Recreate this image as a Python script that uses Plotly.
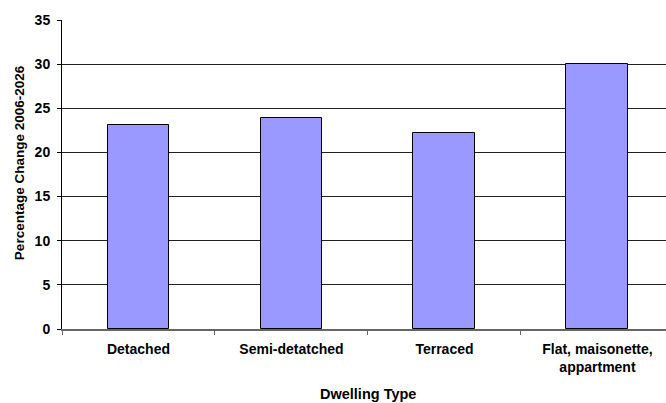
import plotly.graph_objects as go

# Dwelling types and projected percentage change in households, 2006-2026
categories = ["Detached", "Semi-detatched", "Terraced", "Flat, maisonette,<br>appartment"]
pct_change = [23.1, 23.9, 22.2, 30.0]
y_ticks = [0, 5, 10, 15, 20, 25, 30, 35]

FONT = "Liberation Sans, Arial, sans-serif"

fig = go.Figure(
    go.Bar(
        x=categories,
        y=pct_change,
        width=0.405,
        marker=dict(color="#9999FF", line=dict(color="#000000", width=1)),
        hoverinfo="x+y",
    )
)

fig.update_layout(
    width=666,
    height=403,
    margin=dict(l=62, r=0, t=20, b=74),
    paper_bgcolor="white",
    plot_bgcolor="white",
    showlegend=False,
    bargap=0,
    font=dict(family=FONT, size=14, color="black"),
    annotations=[
        dict(
            text="<b>Dwelling Type</b>",
            xref="paper", yref="paper",
            x=0.5066, y=-0.2104,
            xanchor="center", yanchor="middle",
            showarrow=False,
            font=dict(family=FONT, size=14.5, color="black"),
        ),
        dict(
            text="<b>Percentage Change 2006-2026</b>",
            xref="paper", yref="paper",
            x=-0.0712, y=0.54,
            xanchor="center", yanchor="middle",
            textangle=-90,
            showarrow=False,
            font=dict(family=FONT, size=13.5, color="black"),
        ),
    ],
)

fig.update_xaxes(
    type="category",
    range=[-0.5, 3.448],
    tickson="boundaries",
    ticks="outside",
    ticklen=4,
    tickcolor="#666666",
    showline=True,
    linecolor="#666666",
    linewidth=1.5,
    showgrid=False,
    ticklabelstandoff=6,
    tickfont=dict(family=FONT, size=14, color="black", weight="bold"),
)

fig.update_yaxes(
    range=[0, 35],
    tickvals=y_ticks,
    ticks="outside",
    ticklen=4,
    tickcolor="#000000",
    showline=True,
    linecolor="#000000",
    linewidth=1,
    showgrid=True,
    gridcolor="#222222",
    gridwidth=1,
    zeroline=False,
    ticklabelstandoff=4,
    tickfont=dict(family=FONT, size=14, color="black", weight="bold"),
)

fig.write_html("out.html")
